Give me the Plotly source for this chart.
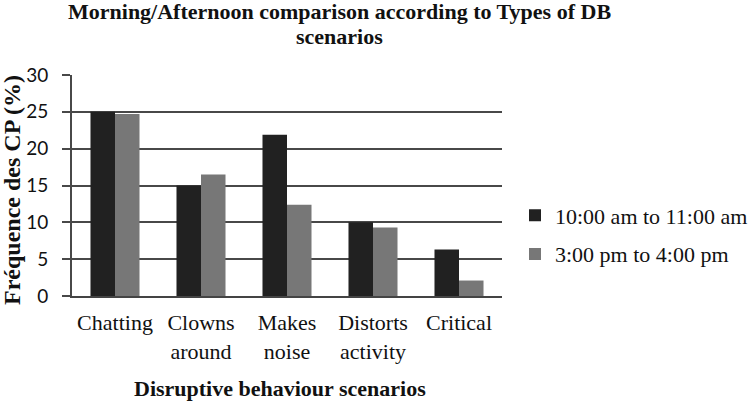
import plotly.graph_objects as go

categories = ["Chatting", "Clowns<br>around", "Makes<br>noise", "Distorts<br>activity", "Critical"]
morning = [25.0, 15.0, 21.9, 10.0, 6.3]
afternoon = [24.7, 16.5, 12.4, 9.3, 2.1]
series_names = ["10:00 am to 11:00 am", "3:00 pm to 4:00 pm"]
y_ticks = [0, 5, 10, 15, 20, 25, 30]

serif = "Liberation Serif"
sans = "Lato"

L, R, T, B = 72, 502, 75, 296
PW, PH = R - L, B - T


def px(x):
    return (x - L) / PW


def py(y):
    return (B - y) / PH


fig = go.Figure()
fig.add_trace(go.Bar(x=categories, y=morning, name=series_names[0], legendgroup="a",
                     marker=dict(color="#212121", line=dict(width=0))))
fig.add_trace(go.Bar(x=categories, y=afternoon, name=series_names[1], legendgroup="b",
                     marker=dict(color="#777777", line=dict(width=0))))

fig.update_layout(
    width=750, height=401,
    margin=dict(l=L, r=750 - R, t=T, b=401 - B, autoexpand=False),
    paper_bgcolor="white", plot_bgcolor="white",
    barmode="group", bargap=0.43, bargroupgap=0,
    showlegend=True,
    legend=dict(x=px(515), y=py(235), xanchor="left", yanchor="middle",
                font=dict(family=serif, size=22, color="#111111"),
                traceorder="grouped", tracegroupgap=7, bgcolor="rgba(0,0,0,0)"),
    xaxis=dict(showgrid=False, showline=True, linecolor="#444444", linewidth=2,
               ticks="", ticklabelstandoff=6, automargin=False,
               tickfont=dict(family=serif, size=22, color="#111111")),
    yaxis=dict(range=[0, 30], tickvals=y_ticks, showgrid=True, gridcolor="#484848",
               gridwidth=2, showline=True, linecolor="#484848", linewidth=2,
               ticks="outside", ticklen=8, tickcolor="#484848", tickwidth=2,
               ticklabelstandoff=10, automargin=False,
               tickfont=dict(family=sans, size=19, color="#111111"), zeroline=False),
    annotations=[
        dict(text="<b>Morning/Afternoon comparison according to Types of DB</b>",
             xref="paper", yref="paper", x=px(339), y=py(12),
             xanchor="center", yanchor="middle", showarrow=False,
             font=dict(family=serif, size=22, color="#111111")),
        dict(text="<b>scenarios</b>",
             xref="paper", yref="paper", x=px(339), y=py(37),
             xanchor="center", yanchor="middle", showarrow=False,
             font=dict(family=serif, size=22, color="#111111")),
        dict(text="<b>Disruptive behaviour scenarios</b>",
             xref="paper", yref="paper", x=px(280), y=py(388),
             xanchor="center", yanchor="middle", showarrow=False,
             font=dict(family=serif, size=22, color="#111111")),
        dict(text="<b>Fréquence des CP (%)</b>", textangle=-90,
             xref="paper", yref="paper", x=px(12), y=py(190),
             xanchor="center", yanchor="middle", showarrow=False,
             font=dict(family=serif, size=24, color="#111111")),
    ],
)

fig.write_html("out.html")
